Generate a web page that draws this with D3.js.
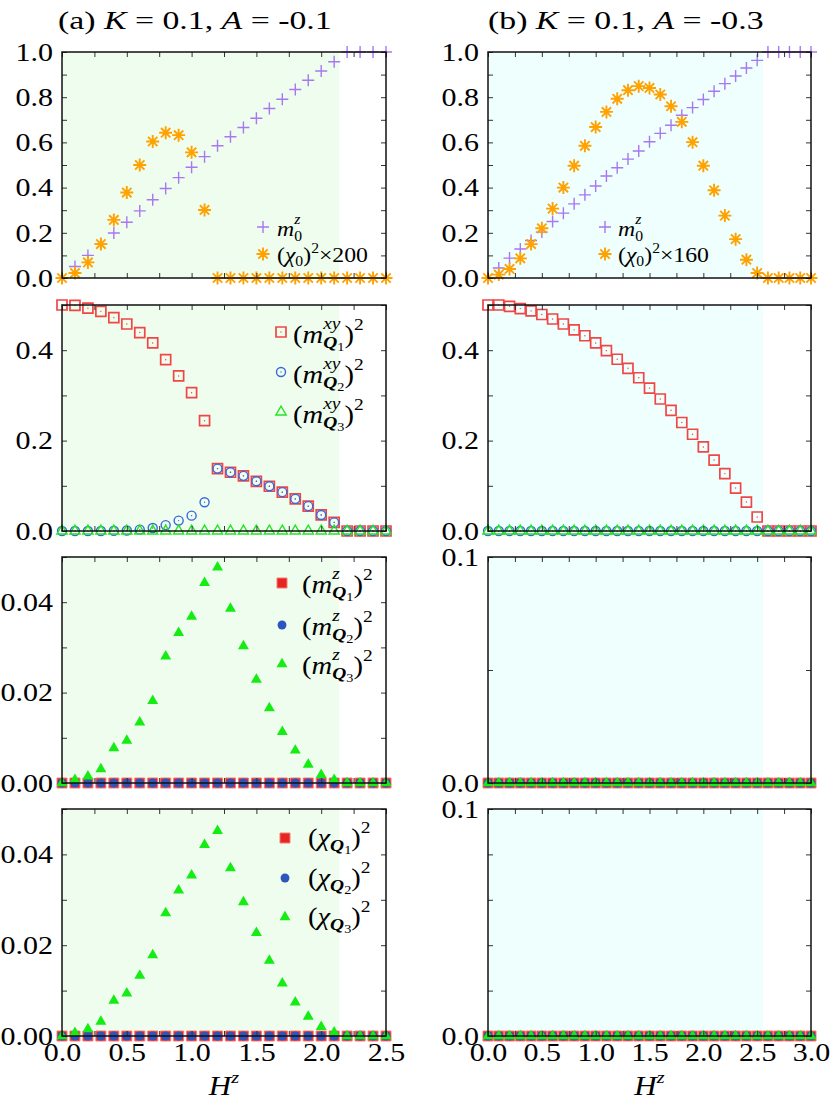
<!DOCTYPE html>
<html><head><meta charset="utf-8">
<script src="https://cdn.jsdelivr.net/npm/d3@7"></script>
<style>html,body{margin:0;padding:0;background:#fff;} svg{display:block;} text{white-space:pre;}</style>
</head><body>
<svg id="chart" width="830" height="1109"></svg>
<script>
// ---------------- DATA ----------------
const H_a = [0,0.1,0.2,0.3,0.4,0.5,0.6,0.7,0.8,0.9,1.0,1.1,1.2,1.3,1.4,1.5,1.6,1.7,1.8,1.9,2.0,2.1,2.2,2.3,2.4,2.5];
const H_b = [0,0.1,0.2,0.3,0.4,0.5,0.6,0.7,0.8,0.9,1.0,1.1,1.2,1.3,1.4,1.5,1.6,1.7,1.8,1.9,2.0,2.1,2.2,2.3,2.4,2.5,2.6,2.7,2.8,2.9,3.0];

// panel (a): K=0.1, A=-0.1
const a_m0z   = [0,0.051,0.100,0.150,0.199,0.247,0.297,0.346,0.396,0.444,0.490,0.537,0.585,0.625,0.666,0.707,0.750,0.791,0.834,0.875,0.916,0.957,1,1,1,1];
const a_chi0  = [0,0.022,0.069,0.150,0.257,0.378,0.500,0.604,0.643,0.632,0.556,0.301,0,0,0,0,0,0,0,0,0,0,0,0,0,0];
const a_mxyQ1 = [0.500,0.499,0.493,0.486,0.472,0.458,0.439,0.416,0.379,0.343,0.306,0.244,0.138,0.130,0.122,0.110,0.099,0.086,0.071,0.055,0.0355,0.019,0,0,0,0];
const a_mxyQ2 = [0,0,0,0,0.0005,0.001,0.003,0.0067,0.013,0.023,0.034,0.0636,0.138,0.130,0.122,0.110,0.099,0.086,0.071,0.055,0.0355,0.019,0,0,0,0];
const a_mxyQ3 = [0,0,0,0,0,0,0,0,0,0,0,0,0,0,0,0,0,0,0,0,0,0,0,0,0,0];
const a_mzQ1  = [0,0,0,0,0,0,0,0,0,0,0,0,0,0,0,0,0,0,0,0,0,0,0,0,0,0];
const a_mzQ2  = [0,0,0,0,0,0,0,0,0,0,0,0,0,0,0,0,0,0,0,0,0,0,0,0,0,0];
const a_mzQ3  = [0,0.0007,0.0015,0.0031,0.0077,0.0094,0.0134,0.0182,0.0280,0.0332,0.0368,0.0443,0.0477,0.0386,0.0303,0.0229,0.0166,0.0113,0.0072,0.0041,0.0018,0.0007,0,0,0,0];
const a_chiQ1 = [0,0,0,0,0,0,0,0,0,0,0,0,0,0,0,0,0,0,0,0,0,0,0,0,0,0];
const a_chiQ2 = [0,0,0,0,0,0,0,0,0,0,0,0,0,0,0,0,0,0,0,0,0,0,0,0,0,0];
const a_chiQ3 = [0,0.0007,0.0015,0.0032,0.0078,0.0094,0.0133,0.0178,0.0271,0.0321,0.0354,0.0421,0.0452,0.0370,0.0295,0.0227,0.0166,0.0116,0.0074,0.0043,0.0020,0.0008,0,0,0,0];

// panel (b): K=0.1, A=-0.3
const b_m0z   = [0,0.044,0.088,0.128,0.166,0.203,0.250,0.287,0.328,0.368,0.407,0.451,0.488,0.526,0.562,0.603,0.640,0.676,0.720,0.754,0.790,0.826,0.860,0.894,0.929,0.963,1,1,1,1,1];
const b_chi0  = [0,0.015,0.040,0.087,0.150,0.220,0.307,0.400,0.497,0.585,0.668,0.735,0.793,0.831,0.849,0.841,0.812,0.760,0.691,0.601,0.497,0.388,0.276,0.172,0.081,0.022,0,0,0,0,0];
const b_mxyQ1 = [0.500,0.500,0.497,0.492,0.487,0.479,0.469,0.458,0.445,0.432,0.416,0.399,0.380,0.360,0.339,0.316,0.292,0.267,0.240,0.214,0.186,0.157,0.127,0.095,0.064,0.031,0,0,0,0,0];
const b_zeros = [0,0,0,0,0,0,0,0,0,0,0,0,0,0,0,0,0,0,0,0,0,0,0,0,0,0,0,0,0,0,0];
const b_mxyQ2 = b_zeros, b_mxyQ3 = b_zeros;
const b_mzQ1 = b_zeros, b_mzQ2 = b_zeros, b_mzQ3 = b_zeros;
const b_chiQ1 = b_zeros, b_chiQ2 = b_zeros, b_chiQ3 = b_zeros;

// ordered phase region (shaded) upper limits
const shadeEnd = [2.14, 2.555];

// tick labels
const xLabA = [0,0.5,1.0,1.5,2.0,2.5];
const xLabB = [0,0.5,1.0,1.5,2.0,2.5,3.0];
const yLabRow1 = [0,0.2,0.4,0.6,0.8,1.0];
const yLabRow2 = [0,0.2,0.4];
const yLabRow34a = [0,0.02,0.04];
const yLabRow34b = [0,0.1];

// ---------------- LAYOUT / STYLE ----------------
const SERIF = "'Liberation Serif','Times New Roman',Times,serif";
const svg = d3.select('#chart');
const cols = [{x0:62, x1:386, xmax:2.5, bg:'#effdee'}, {x0:488, x1:811, xmax:3.0, bg:'#eefffe'}];
const rows = [{y0:52,y1:278},{y0:305,y1:531},{y0:557,y1:783},{y0:809,y1:1036}];

const plusPath = r => `M${-r},0H${r}M0,${-r}V${r}`;
const asterPath = r => { const q = r*0.72; return `M${-r},0H${r}M0,${-r}V${r}M${-q},${-q}L${q},${q}M${-q},${q}L${q},${-q}`; };
const M = {
  plus:   {d: plusPath(6), fill:'none', stroke:'#a877f2', sw:1.4},
  aster:  {d: asterPath(6.5), fill:'none', stroke:'#ffa200', sw:1.9},
  sqOpen: {d: d3.symbol(d3.symbolSquare, 100)(), fill:'none', stroke:'#f04646', sw:1.7, dot:true},
  ciOpen: {d: d3.symbol(d3.symbolCircle, 64)(), fill:'none', stroke:'#3a68dc', sw:1.4, dot:true},
  trOpen: {d: d3.symbol(d3.symbolTriangle, 46)(), fill:'none', stroke:'#22e622', sw:1.4},
  sqFill: {d: d3.symbol(d3.symbolSquare, 100)(), fill:'#e8241e', stroke:'#f27a7a', sw:1},
  ciFill: {d: d3.symbol(d3.symbolCircle, 62)(), fill:'#2c55bd', stroke:'none', sw:0},
  trFill: {d: d3.symbol(d3.symbolTriangle, 52)(), fill:'#14ec14', stroke:'none', sw:0},
};

function drawMarkers(g, pts, key) {
  const m = M[key];
  const sel = g.append('g').selectAll(null).data(pts).join('g')
    .attr('transform', d => `translate(${d[0]},${d[1]})`);
  sel.append('path').attr('d', m.d).attr('fill', m.fill).attr('stroke', m.stroke).attr('stroke-width', m.sw);
  if (m.dot) sel.append('circle').attr('r', 0.7).attr('fill', m.stroke);
}

// lays out a small formula; k = horizontal stretch
function mathText(parent, x, y, size, parts, k) {
  k = k || 1;
  const g = parent.append('g').attr('transform', `translate(${x},0) scale(${k},1)`);
  let cursor = 0, prevStart = 0, maxX = 0;
  parts.forEach(([txt, o]) => {
    o = o || {};
    const s = size * (o.s || 1);
    const start = o.pos === 'stack' ? prevStart : (o.pos === 'max' ? maxX : cursor);
    const t = g.append('text').attr('x', start).attr('y', y + (o.dy || 0) * size)
      .attr('xml:space', 'preserve')
      .style('font-family', SERIF).style('font-size', s + 'px')
      .style('font-style', o.i ? 'italic' : 'normal').style('font-weight', o.b ? 'bold' : 'normal')
      .attr('fill', '#000').text(txt);
    const w = t.node().getComputedTextLength();
    prevStart = start; cursor = start + w; maxX = Math.max(maxX, cursor);
  });
  return {g, w: maxX * k};
}

const SUP = {s:0.68, dy:-0.55, i:1};
const SUB = {s:0.68, dy:0.2, b:1, i:1};
const SUBSUB = {s:0.5, dy:0.3};

function legQ(base, supTxt, n) {
  const parts = [['('], [base, {i:1}]];
  if (supTxt) { parts.push([supTxt, SUP]); parts.push(['Q', Object.assign({pos:'stack'}, SUB)]); }
  else parts.push(['Q', SUB]);
  parts.push([String(n), SUBSUB]);
  parts.push([')', {pos:'max'}]);
  parts.push(['2', {s:0.68, dy:-0.5}]);
  return parts;
}

const m0Parts = [['m',{i:1}],['z',{s:0.66,dy:-0.55,i:1}],['0',{pos:'stack',s:0.66,dy:0.22}]];
const legends = {
  '0-0': {mx:263, tx:277, size:22, k:1.08, items:[
      {k:'plus', my:227, ty:236, parts:m0Parts},
      {k:'aster', my:254, ty:262, parts:[['('],['χ',{i:1}],['0',{s:0.66,dy:0.18}],[')'],['2',{s:0.66,dy:-0.42}],['×200']]}]},
  '1-0': {mx:605, tx:618, size:22, k:1.08, items:[
      {k:'plus', my:227, ty:236, parts:m0Parts},
      {k:'aster', my:254, ty:262, parts:[['('],['χ',{i:1}],['0',{s:0.66,dy:0.18}],[')'],['2',{s:0.66,dy:-0.42}],['×160']]}]},
  '0-1': {mx:281, tx:293, size:26, k:1.1, items:[
      {k:'sqOpen', my:332, ty:343, parts:legQ('m','xy',1)},
      {k:'ciOpen', my:372, ty:383, parts:legQ('m','xy',2)},
      {k:'trOpen', my:412, ty:423, parts:legQ('m','xy',3)}]},
  '0-2': {mx:282, tx:302, size:26, k:1.1, items:[
      {k:'sqFill', my:583, ty:593, parts:legQ('m','z',1)},
      {k:'ciFill', my:625, ty:635, parts:legQ('m','z',2)},
      {k:'trFill', my:664, ty:674, parts:legQ('m','z',3)}]},
  '0-3': {mx:285, tx:308, size:26, k:1.1, items:[
      {k:'sqFill', my:838, ty:846, parts:legQ('χ',null,1)},
      {k:'ciFill', my:878, ty:886, parts:legQ('χ',null,2)},
      {k:'trFill', my:917, ty:925, parts:legQ('χ',null,3)}]},
};

const panels = [
  {c:0,r:0,H:H_a,yMax:1,   lab:yLabRow1,  minor:0.1,  fmt:'.1f', series:[[a_m0z,'plus'],[a_chi0,'aster']]},
  {c:0,r:1,H:H_a,yMax:0.5, lab:yLabRow2,  minor:0.1,  fmt:'.1f', series:[[a_mxyQ1,'sqOpen'],[a_mxyQ2,'ciOpen'],[a_mxyQ3,'trOpen']]},
  {c:0,r:2,H:H_a,yMax:0.05,lab:yLabRow34a,minor:0.01, fmt:'.2f', series:[[a_mzQ1,'sqFill'],[a_mzQ2,'ciFill'],[a_mzQ3,'trFill']]},
  {c:0,r:3,H:H_a,yMax:0.05,lab:yLabRow34a,minor:0.01, fmt:'.2f', series:[[a_chiQ1,'sqFill'],[a_chiQ2,'ciFill'],[a_chiQ3,'trFill']]},
  {c:1,r:0,H:H_b,yMax:1,   lab:yLabRow1,  minor:0.1,  fmt:'.1f', series:[[b_m0z,'plus'],[b_chi0,'aster']]},
  {c:1,r:1,H:H_b,yMax:0.5, lab:yLabRow2,  minor:0.1,  fmt:'.1f', series:[[b_mxyQ1,'sqOpen'],[b_mxyQ2,'ciOpen'],[b_mxyQ3,'trOpen']]},
  {c:1,r:2,H:H_b,yMax:0.1, lab:yLabRow34b,minor:0.05, fmt:'.1f', series:[[b_mzQ1,'sqFill'],[b_mzQ2,'ciFill'],[b_mzQ3,'trFill']]},
  {c:1,r:3,H:H_b,yMax:0.1, lab:yLabRow34b,minor:0.02, fmt:'.1f', series:[[b_chiQ1,'sqFill'],[b_chiQ2,'ciFill'],[b_chiQ3,'trFill']]},
];

const TICKFS = 25, STRETCH = 1.2;
function styleLabels(sel) {
  sel.style('font-family', SERIF).style('font-size', TICKFS + 'px').attr('fill', '#000');
}

panels.forEach(p => {
  const col = cols[p.c], row = rows[p.r];
  const x = d3.scaleLinear().domain([0, col.xmax]).range([col.x0, col.x1]);
  const y = d3.scaleLinear().domain([0, p.yMax]).range([row.y1, row.y0]);
  const g = svg.append('g');

  // shaded ordered-phase region
  g.append('rect').attr('x', x(0)).attr('y', row.y0)
    .attr('width', x(shadeEnd[p.c]) - x(0)).attr('height', row.y1 - row.y0).attr('fill', col.bg);

  // markers
  p.series.forEach(([vals, key]) => {
    drawMarkers(g, p.H.map((h, i) => [x(h), y(vals[i])]), key);
  });

  // ticks (inward) on all four sides
  const xt = d3.range(0, col.xmax + 1e-9, 0.25);
  const yt = d3.range(0, p.yMax + 1e-9, p.minor);
  const tickStyle = s => { s.select('.domain').remove(); s.selectAll('line').attr('stroke', '#333').attr('stroke-width', 1); };
  g.append('g').attr('transform', `translate(0,${row.y0})`).call(d3.axisTop(x).tickValues(xt).tickSize(-5).tickFormat('')).call(tickStyle);
  g.append('g').attr('transform', `translate(0,${row.y1})`).call(d3.axisBottom(x).tickValues(xt).tickSize(-5).tickFormat('')).call(tickStyle);
  g.append('g').attr('transform', `translate(${col.x0},0)`).call(d3.axisLeft(y).tickValues(yt).tickSize(-5).tickFormat('')).call(tickStyle);
  g.append('g').attr('transform', `translate(${col.x1},0)`).call(d3.axisRight(y).tickValues(yt).tickSize(-5).tickFormat('')).call(tickStyle);

  // frame
  g.append('rect').attr('x', col.x0).attr('y', row.y0).attr('width', col.x1 - col.x0).attr('height', row.y1 - row.y0)
    .attr('fill', 'none').attr('stroke', '#111').attr('stroke-width', 1.5);

  // y labels
  const ya = g.append('g').attr('transform', `translate(${col.x0},0)`)
    .call(d3.axisLeft(y).tickValues(p.lab).tickSize(0).tickPadding(9).tickFormat(d3.format(p.fmt)));
  ya.select('.domain').remove();
  ya.selectAll('text').attr('x', -9 / STRETCH).attr('dy', '0.33em').attr('transform', `scale(${STRETCH},1)`).call(styleLabels);

  // x labels on bottom row
  if (p.r === 3) {
    const xa = g.append('g').attr('transform', `translate(0,${row.y1})`)
      .call(d3.axisBottom(x).tickValues(p.c === 0 ? xLabA : xLabB).tickSize(0).tickFormat(d3.format('.1f')));
    xa.select('.domain').remove();
    xa.selectAll('text').attr('y', 25).attr('dy', 0).attr('transform', `scale(${STRETCH},1)`).call(styleLabels);
    // axis title H^z
    const tmp = mathText(g, 0, 1095, 27, [['H', {i:1}], ['z', {i:1, s:0.65, dy:-0.45}]], 1.15);
    tmp.g.attr('transform', `translate(${(col.x0 + col.x1) / 2 - tmp.w / 2},0) scale(1.15,1)`);
  }

  // legend
  const L = legends[p.c + '-' + p.r];
  if (L) {
    L.items.forEach(it => {
      drawMarkers(g, [[L.mx, it.my]], it.k);
      mathText(g, L.tx, it.ty, L.size, it.parts, L.k);
    });
  }
});

// titles
mathText(svg, 58, 29, 26, [['(a) '], ['K', {i:1}], [' = 0.1, '], ['A', {i:1}], [' = -0.1']], 1.3);
mathText(svg, 488, 29, 26, [['(b) '], ['K', {i:1}], [' = 0.1, '], ['A', {i:1}], [' = -0.3']], 1.3);
</script>
</body></html>
